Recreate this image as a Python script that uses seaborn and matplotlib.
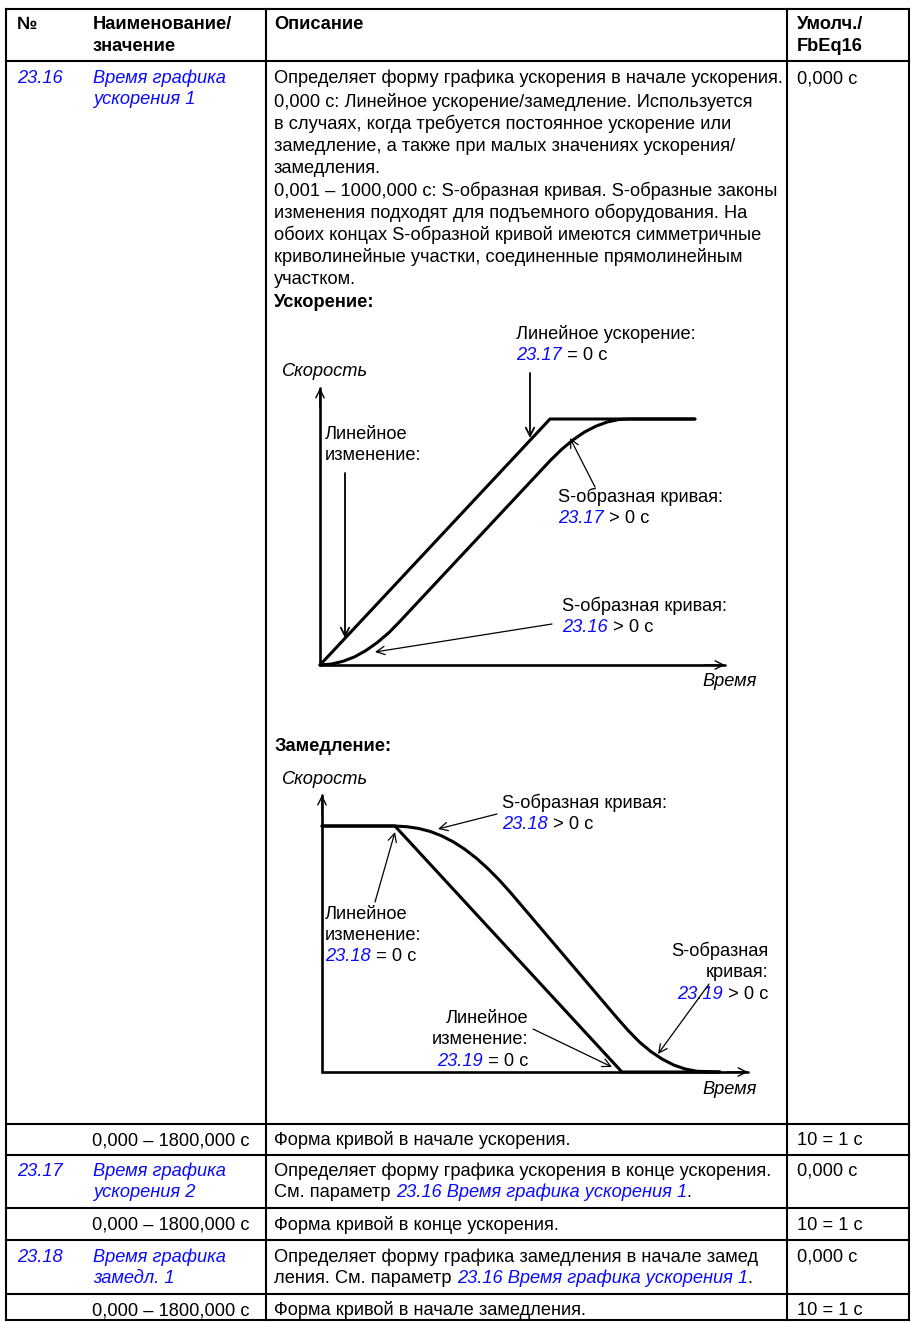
import matplotlib
matplotlib.use('Agg')
import matplotlib.pyplot as plt
import seaborn as sns
import pandas as pd

# ------------------------------------------------------------------ data
header_cols = ['№', 'Наименование/', 'значение', 'Описание', 'Умолч./', 'FbEq16']
param_ids = ['23.16', '23.17', '23.18']
param_name1 = ['Время графика', 'Время графика', 'Время графика']
param_name2 = ['ускорения 1', 'ускорения 2', 'замедл. 1']
param_defaults = ['0,000 с', '0,000 с', '0,000 с']
range_text = '0,000 – 1800,000 с'
range_desc = ['Форма кривой в начале ускорения.',
              'Форма кривой в конце ускорения.',
              'Форма кривой в начале замедления.']
fbeq_text = '10 = 1 с'
desc_2316 = [
    'Определяет форму графика ускорения в начале ускорения.',
    '0,000 с: Линейное ускорение/замедление. Используется',
    'в случаях, когда требуется постоянное ускорение или',
    'замедление, а также при малых значениях ускорения/',
    'замедления.',
    '0,001 – 1000,000 с: S-образная кривая. S-образные законы',
    'изменения подходят для подъемного оборудования. На',
    'обоих концах S-образной кривой имеются симметричные',
    'криволинейные участки, соединенные прямолинейным',
    'участком.',
]
desc_2317 = 'Определяет форму графика ускорения в конце ускорения.'
desc_2318 = 'Определяет форму графика замедления в начале замед'
see_ref = '23.16 Время графика ускорения 1'

# acceleration diagram (time, speed)
acc_linear_t = [0.0, 10.0, 16.3]
acc_linear_v = [0.0, 1.0, 1.0]
acc_s_t = [0.0, 0.5, 1.0, 1.5, 2.0, 2.5, 3.0, 3.4, 4.0, 5.0, 6.0, 7.0, 8.0, 9.0,
           10.0, 10.5, 11.0, 11.5, 12.0, 12.5, 13.0, 13.4, 16.3]
acc_s_v = [0.0, 0.004, 0.015, 0.033, 0.059, 0.092, 0.132, 0.170, 0.230, 0.330, 0.430,
           0.530, 0.630, 0.730, 0.830, 0.876, 0.915, 0.947, 0.971, 0.988, 0.998, 1.0, 1.0]
# deceleration diagram (time, speed)
dec_linear_t = [0.0, 3.17, 13.04, 17.3]
dec_linear_v = [1.0, 1.0, 0.0, 0.0]
dec_s_t = [0.0, 3.17, 3.7, 4.2, 4.7, 5.2, 5.7, 6.2, 6.7, 7.2, 7.7, 8.2, 9.0, 10.0, 11.0,
           12.0, 12.8, 13.3, 13.8, 14.3, 14.8, 15.3, 15.8, 16.3, 17.3]
dec_s_v = [1.0, 1.0, 0.997, 0.990, 0.978, 0.960, 0.936, 0.906, 0.870, 0.828, 0.781, 0.729,
           0.641, 0.531, 0.421, 0.311, 0.223, 0.170, 0.122, 0.083, 0.052, 0.028, 0.012,
           0.003, 0.0]

# ------------------------------------------------------------------ setup
sns.set_style('white')
plt.rcParams['font.family'] = ['Liberation Sans', 'DejaVu Sans']
W, H = 912, 1322
fig = plt.figure(figsize=(W / 100, H / 100), dpi=100)
page = fig.add_axes([0, 0, 1, 1])
page.set_xlim(0, W)
page.set_ylim(H, 0)
page.axis('off')
renderer = fig.canvas.get_renderer()
BLUE = '#0a0aff'


def measure(s, **kw):
    t = page.text(0, 0, s, **kw)
    w = t.get_window_extent(renderer).width
    t.remove()
    return w


FS = 10 * 512 / measure(desc_2316[0], fontsize=10)
N = dict(fontsize=FS, color='black')
B = dict(fontsize=FS, color='black', fontweight='bold')
L = dict(fontsize=FS, color=BLUE, fontstyle='italic')
I = dict(fontsize=FS, color='black', fontstyle='italic')


def runs(x, y, parts, ha='left'):
    widths = [measure(s + '|', **st) - measure('|', **st) for s, st in parts]
    if ha == 'right':
        x = x - sum(widths)
    for (s, st), w in zip(parts, widths):
        page.text(x, y, s, va='baseline', ha='left', **st)
        x += w


def txt(x, y, s, st, ha='left'):
    page.text(x, y, s, va='baseline', ha=ha, **st)


# ------------------------------------------------------------------ table grid
LW = 1.5
X_L, X_C1, X_C2, X_R = 6, 266, 787, 909
Y_TOP, Y_BOT = 9, 1320
for yy in [Y_TOP, 61, 1124, 1155, 1208, 1240, 1294, Y_BOT]:
    page.plot([X_L, X_R], [yy, yy], color='black', lw=LW, solid_capstyle='projecting')
for xx in [X_L, X_C1, X_C2, X_R]:
    page.plot([xx, xx], [Y_TOP, Y_BOT], color='black', lw=LW, solid_capstyle='projecting')

COL_N, COL_NAME, COL_DESC, COL_DEF = 17, 93, 274, 797

# header
txt(COL_N, 29, header_cols[0], B)
txt(COL_NAME, 29, header_cols[1], B)
txt(COL_NAME, 51, header_cols[2], B)
txt(COL_DESC, 29, header_cols[3], B)
txt(COL_DEF, 29, header_cols[4], B)
txt(COL_DEF, 51, header_cols[5], B)

# row 23.16
txt(COL_N, 83, param_ids[0], L)
txt(COL_NAME, 83, param_name1[0], L)
txt(COL_NAME, 104, param_name2[0], L)
txt(COL_DEF, 83, param_defaults[0], N)
desc_y = [83, 107, 129, 151, 173, 196, 218, 240, 262, 284]
for yy, s in zip(desc_y, desc_2316):
    txt(COL_DESC, yy, s, N)
txt(COL_DESC, 307, 'Ускорение:', B)

# ------------------------------------------------------------------ diagrams
PX_T, PX_V = 23.0, 246.0


def diagram(ox, oy, xend, ytop):
    xmax = (xend - ox) / PX_T
    ymax = (oy - ytop) / PX_V
    ax = fig.add_axes([ox / W, 1 - oy / H, (xend - ox) / W, (oy - ytop) / H])
    ax.set_xlim(0, xmax)
    ax.set_ylim(0, ymax)
    ax.axis('off')
    ax.patch.set_alpha(0)
    ax.plot([0, 1], [0, 0], transform=ax.transAxes, color='black', lw=1.9, clip_on=False)
    ax.plot([0, 0], [0, 1], transform=ax.transAxes, color='black', lw=1.9, clip_on=False)
    ap = dict(arrowstyle='->', lw=1.0, color='black', mutation_scale=15, shrinkA=0, shrinkB=0)
    ax.annotate('', xy=(1, 0), xytext=(0.95, 0), xycoords='axes fraction', arrowprops=ap)
    ax.annotate('', xy=(0, 1), xytext=(0, 0.93), xycoords='axes fraction', arrowprops=ap)
    return ax


def draw_curves(ax, t1, v1, t2, v2):
    df1 = pd.DataFrame({'t': t1, 'v': v1})
    df2 = pd.DataFrame({'t': t2, 'v': v2})
    sns.lineplot(data=df1, x='t', y='v', ax=ax, color='black', lw=2.2, sort=False, estimator=None)
    sns.lineplot(data=df2, x='t', y='v', ax=ax, color='black', lw=2.2, sort=False, estimator=None)
    for ln in ax.lines:
        ln.set_clip_on(False)
    ax.axis('off')


ax1 = diagram(320, 665, 725, 388)
draw_curves(ax1, acc_linear_t, acc_linear_v, acc_s_t, acc_s_v)
ax2 = diagram(322, 1072, 748, 795)
draw_curves(ax2, dec_linear_t, dec_linear_v, dec_s_t, dec_s_v)


def pointer(x0, y0, x1, y1, lw=0.9):
    page.annotate('', xy=(x1, y1), xytext=(x0, y0), xycoords='data',
                  arrowprops=dict(arrowstyle='->', lw=lw, color='black',
                                  mutation_scale=15, shrinkA=0, shrinkB=0))


# acceleration labels
txt(516, 339, 'Линейное ускорение:', N)
runs(516, 360, [('23.17', L), (' = 0 с', N)])
txt(282, 376, 'Скорость', I)
txt(325, 439, 'Линейное', N)
txt(325, 460, 'изменение:', N)
txt(558, 502, 'S-образная кривая:', N)
runs(558, 523, [('23.17', L), (' > 0 с', N)])
txt(562, 611, 'S-образная кривая:', N)
runs(562, 632, [('23.16', L), (' > 0 с', N)])
txt(757, 686, 'Время', I, ha='right')
pointer(530, 373, 530, 438, lw=1.3)
pointer(345, 473, 345, 638, lw=1.3)
pointer(595, 487, 570, 438)
pointer(552, 624, 375, 652)

# deceleration labels
txt(275, 751, 'Замедление:', B)
txt(282, 784, 'Скорость', I)
txt(502, 808, 'S-образная кривая:', N)
runs(502, 829, [('23.18', L), (' > 0 с', N)])
txt(325, 919, 'Линейное', N)
txt(325, 940, 'изменение:', N)
runs(325, 961, [('23.18', L), (' = 0 с', N)])
txt(768, 956, 'S-образная', N, ha='right')
txt(768, 977, 'кривая:', N, ha='right')
runs(768, 999, [('23.19', L), (' > 0 с', N)], ha='right')
txt(528, 1023, 'Линейное', N, ha='right')
txt(528, 1044, 'изменение:', N, ha='right')
runs(528, 1066, [('23.19', L), (' = 0 с', N)], ha='right')
txt(757, 1094, 'Время', I, ha='right')
pointer(497, 814, 438, 829)
pointer(375, 902, 395, 832)
pointer(709, 984, 658, 1054)
pointer(533, 1029, 612, 1067)

# ------------------------------------------------------------------ lower rows
row_y = [1145, 1230, 1315]
for yy, d in zip(row_y, range_desc):
    txt(COL_NAME - 1, yy, range_text, N)
    txt(COL_DESC, yy, d, N)
    txt(COL_DEF, yy, fbeq_text, N)

# 23.17
txt(COL_N, 1176, param_ids[1], L)
txt(COL_NAME, 1176, param_name1[1], L)
txt(COL_NAME, 1197, param_name2[1], L)
txt(COL_DESC, 1176, desc_2317, N)
runs(COL_DESC, 1197, [('См. параметр ', N), (see_ref, L), ('.', N)])
txt(COL_DEF, 1176, param_defaults[1], N)

# 23.18
txt(COL_N, 1262, param_ids[2], L)
txt(COL_NAME, 1262, param_name1[2], L)
txt(COL_NAME, 1283, param_name2[2], L)
txt(COL_DESC, 1262, desc_2318, N)
runs(COL_DESC, 1283, [('ления. См. параметр ', N), (see_ref, L), ('.', N)])
txt(COL_DEF, 1262, param_defaults[2], N)

fig.savefig('out.png', dpi=100, facecolor='white')
